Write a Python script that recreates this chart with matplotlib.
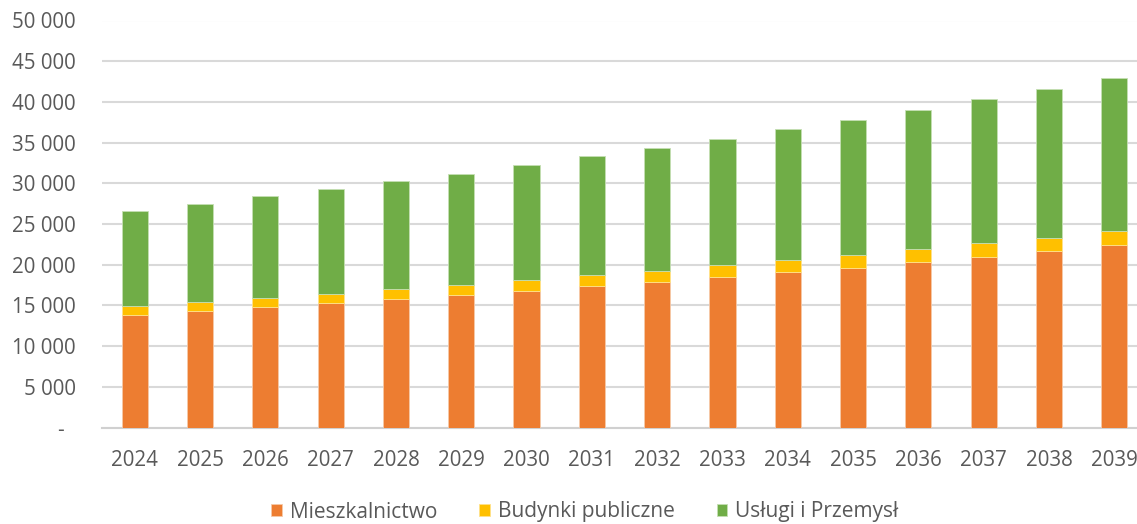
import matplotlib.pyplot as plt
from matplotlib.ticker import FuncFormatter
import numpy as np

years = [str(y) for y in range(2024, 2040)]

# values (thousands of units)
mieszkalnictwo = [13.86, 14.35, 14.76, 15.25, 15.75, 16.28, 16.77, 17.35,
                  17.92, 18.49, 19.07, 19.63, 20.33, 20.98, 21.65, 22.38]
budynki_publiczne = [1.07, 1.07, 1.19, 1.19, 1.26, 1.22, 1.33, 1.35,
                     1.35, 1.43, 1.47, 1.56, 1.60, 1.65, 1.67, 1.72]
uslugi_przemysl = [11.70, 12.08, 12.49, 12.86, 13.23, 13.70, 14.15, 14.61,
                   15.10, 15.56, 16.09, 16.59, 17.07, 17.69, 18.26, 18.84]

series_names = ['Mieszkalnictwo', 'Budynki publiczne', 'Usługi i Przemysł']
colors = ['#ED7D31', '#FFC000', '#70AD47']

plt.rcParams['font.family'] = ['Open Sans', 'DejaVu Sans']
text_color = '#595959'

fig = plt.figure(figsize=(11.37, 5.24), dpi=100)
# plot area runs past the right edge of the picture, like in the reference
ax = fig.add_axes([102 / 1137, 96.5 / 524, 1045 / 1137, 407 / 524])

x = np.arange(len(years))
m = np.array(mieszkalnictwo) * 1000
b = np.array(budynki_publiczne) * 1000
u = np.array(uslugi_przemysl) * 1000

ax.bar(x, m, width=0.4, color=colors[0], edgecolor='#f6c9a8', linewidth=0.6, label=series_names[0], zorder=3)
ax.bar(x, b, width=0.4, bottom=m, color=colors[1], edgecolor='#ffe28a', linewidth=0.6, label=series_names[1], zorder=3)
ax.bar(x, u, width=0.4, bottom=m + b, color=colors[2], edgecolor='#c5dfb3', linewidth=0.6, label=series_names[2], zorder=3)

ax.set_xlim(-0.5, len(years) - 0.5)
ax.set_ylim(0, 50000)
ax.set_yticks(np.arange(0, 50001, 5000))


def fmt(v, pos):
    if v == 0:
        return '-  '
    return '{:,.0f}'.format(v).replace(',', ' ')


ax.yaxis.set_major_formatter(FuncFormatter(fmt))
ax.set_xticks(x)
ax.set_xticklabels(years)

ax.grid(axis='y', color='#d9d9d9', linewidth=1.5, zorder=0)
for side in ['top', 'right', 'left']:
    ax.spines[side].set_visible(False)
ax.spines['bottom'].set_color('#d0d0d0')
ax.spines['bottom'].set_linewidth(1.5)
ax.tick_params(axis='both', length=0, labelsize=14.8, colors=text_color)
ax.tick_params(axis='y', pad=19)
ax.tick_params(axis='x', pad=16)

fig.legend(loc='center', bbox_to_anchor=(585 / 1137, 1 - 512 / 524), ncol=3,
           frameon=False, fontsize=15, labelcolor=text_color, handlelength=0.5,
           handleheight=0.5, handletextpad=0.4, columnspacing=2.0)

fig.savefig('out.png', dpi=100)
